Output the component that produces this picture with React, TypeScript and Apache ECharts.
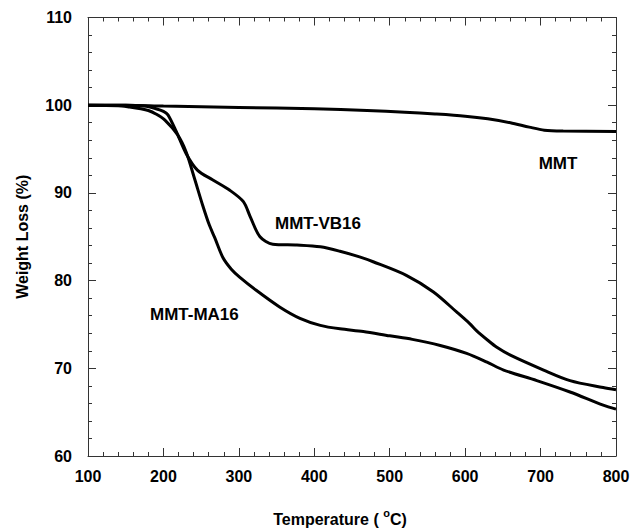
import React, { useEffect, useRef } from "react";
import * as echarts from "echarts";

const xTicks = [100, 200, 300, 400, 500, 600, 700, 800];
const yTicks = [60, 70, 80, 90, 100, 110];

const mmt: [number, number][] = [
  [100, 100], [150, 100], [200, 99.9], [300, 99.75], [400, 99.6], [470, 99.4],
  [520, 99.2], [560, 99.0], [600, 98.75], [630, 98.45], [660, 98.0], [685, 97.5],
  [705, 97.15], [730, 97.05], [800, 97.0],
];

const vb16: [number, number][] = [
  [100, 100], [150, 100], [175, 99.9], [190, 99.6], [200, 99.3], [206, 98.9],
  [217, 97.0], [230, 94.5], [245, 92.6], [265, 91.5], [288, 90.3], [306, 89.0],
  [315, 87.3], [328, 85.0], [345, 84.15], [377, 84.05], [408, 83.85], [434, 83.35],
  [460, 82.7], [478, 82.15], [522, 80.6], [558, 78.7], [589, 76.4], [606, 75.1],
  [615, 74.3], [630, 73.2], [642, 72.4], [660, 71.5], [704, 69.8], [739, 68.6],
  [783, 67.8], [800, 67.55],
];

const ma16: [number, number][] = [
  [100, 100], [140, 99.95], [155, 99.8], [170, 99.6], [180, 99.4], [190, 99.0],
  [202, 98.3], [219, 96.6], [230, 94.7], [241, 91.7], [252, 88.6], [261, 86.3],
  [268, 84.9], [279, 82.6], [290, 81.3], [301, 80.4], [323, 78.9], [354, 77.0],
  [381, 75.7], [408, 74.9], [434, 74.5], [465, 74.2], [500, 73.7], [530, 73.3],
  [567, 72.6], [602, 71.7], [629, 70.7], [651, 69.8], [695, 68.6], [739, 67.3],
  [783, 65.8], [800, 65.35],
];

const seriesNames = ["MMT", "MMT-VB16", "MMT-MA16"];

const FONT = "'Liberation Sans', Arial, sans-serif";
const AXIS_COLOR = "#333";

export default function App() {
  const ref = useRef<HTMLDivElement>(null);
  useEffect(() => {
    if (!ref.current) return;
    const chart = echarts.init(ref.current, undefined, { renderer: "svg" });
    const axisCommon = {
      type: "value" as const,
      axisLine: { show: true, onZero: false, lineStyle: { color: AXIS_COLOR, width: 1 } },
      axisTick: { show: true, inside: true, length: 8, lineStyle: { color: AXIS_COLOR } },
      minorTick: { show: true, splitNumber: 5, length: 4, lineStyle: { color: AXIS_COLOR } },
      splitLine: { show: false },
      minorSplitLine: { show: false },
    };
    const lineS = (name: string, data: [number, number][]) => ({
      name,
      type: "line" as const,
      data,
      smooth: 0.3,
      showSymbol: false,
      symbol: "none",
      lineStyle: { color: "#000", width: 3 },
      xAxisIndex: 0,
      yAxisIndex: 0,
    });
    const labelStyle = { fontFamily: FONT, fontWeight: "bold", fontSize: 17, fill: "#000", verticalAlign: "middle" };
    chart.setOption({
      animation: false,
      grid: { left: 88, right: 14, top: 17.5, bottom: 73, containLabel: false, outerBoundsMode: "none" },
      xAxis: [
        {
          ...axisCommon,
          min: xTicks[0],
          max: xTicks[xTicks.length - 1],
          interval: 100,
          position: "bottom",
          axisLabel: {
            color: "#000",
            fontFamily: FONT,
            fontWeight: "bold",
            fontSize: 16,
            margin: 12,
          },
          name: "{a|Temperature ( }{s|o}{a|C)}",
          nameLocation: "middle",
          nameGap: 51,
          nameTextStyle: {
            padding: [0, 24, 0, 0],
            rich: {
              a: { fontFamily: FONT, fontWeight: "bold", fontSize: 16, color: "#000", lineHeight: 24 },
              s: { fontFamily: FONT, fontWeight: "bold", fontSize: 11, color: "#000", lineHeight: 24, padding: [0, 0, 12, 0] },
            },
          },
        },
        {
          ...axisCommon,
          min: xTicks[0],
          max: xTicks[xTicks.length - 1],
          interval: 100,
          position: "top",
          axisLabel: { show: false },
        },
      ],
      yAxis: [
        {
          ...axisCommon,
          min: yTicks[0],
          max: yTicks[yTicks.length - 1],
          interval: 10,
          position: "left",
          axisLabel: {
            color: "#000",
            fontFamily: FONT,
            fontWeight: "bold",
            fontSize: 16,
            margin: 16,
          },
          name: "Weight Loss (%)",
          nameLocation: "middle",
          nameGap: 58,
          nameTextStyle: { fontFamily: FONT, fontWeight: "bold", fontSize: 16, color: "#000" },
        },
        {
          ...axisCommon,
          min: yTicks[0],
          max: yTicks[yTicks.length - 1],
          interval: 10,
          position: "right",
          axisLabel: { show: false },
        },
      ],
      series: [
        lineS(seriesNames[0], mmt),
        lineS(seriesNames[1], vb16),
        lineS(seriesNames[2], ma16),
      ],
      graphic: [
        { type: "text", x: 558, y: 163, style: { ...labelStyle, text: seriesNames[0], align: "center" } },
        { type: "text", x: 275, y: 223, style: { ...labelStyle, text: seriesNames[1], align: "left" } },
        { type: "text", x: 150, y: 314, style: { ...labelStyle, text: seriesNames[2], align: "left" } },
      ],
    });
    return () => chart.dispose();
  }, []);
  return <div ref={ref} style={{ width: 630, height: 529, position: "absolute", left: 0, top: 0 }} />;
}
